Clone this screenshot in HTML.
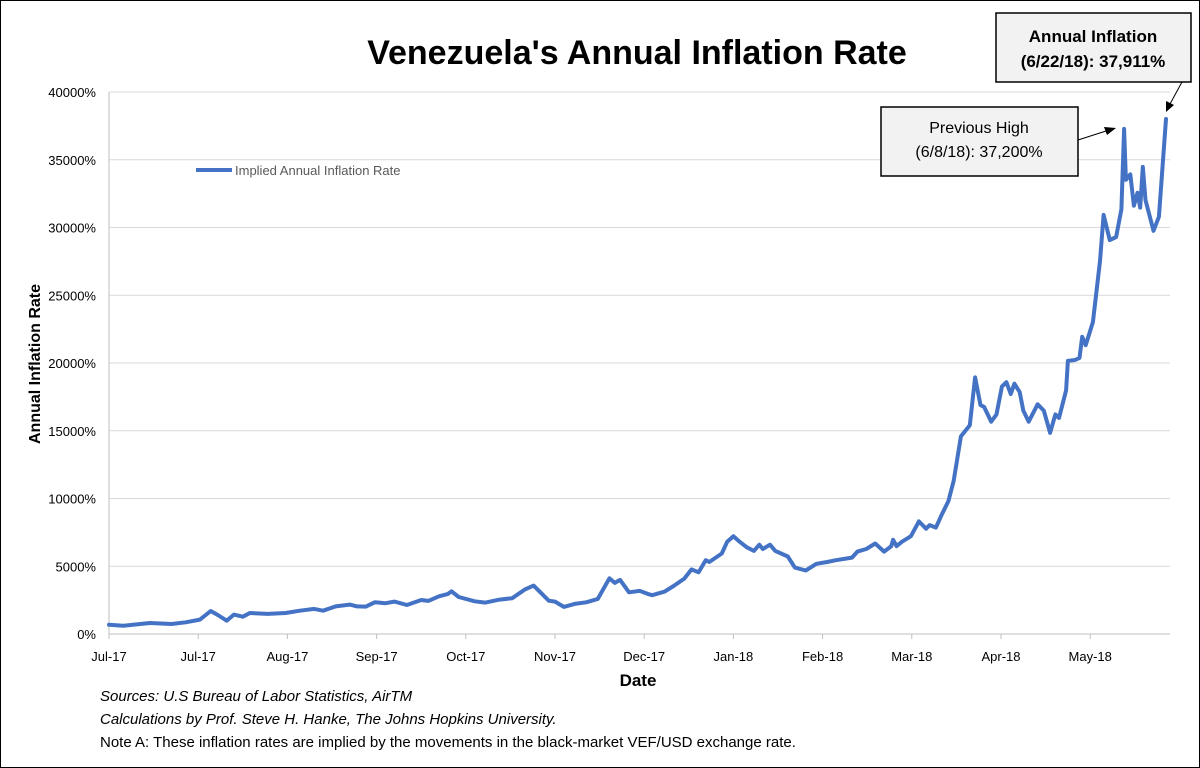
<!DOCTYPE html>
<html><head><meta charset="utf-8"><style>
body{margin:0;background:#fff}
svg{display:block;font-family:"Liberation Sans",Arial,sans-serif}
</style></head><body>
<svg id="chart" width="1200" height="768" viewBox="0 0 1200 768">
<rect x="0.5" y="0.5" width="1199" height="767" fill="#fff" stroke="#000"/>
<text x="637" y="64" text-anchor="middle" font-size="34" font-weight="bold">Venezuela's Annual Inflation Rate</text>
<g id="grid"></g>
<g id="yticks"></g>
<g id="xticks"></g>
<text transform="translate(40,364) rotate(-90)" text-anchor="middle" font-size="16" font-weight="bold">Annual Inflation Rate</text>
<text x="638" y="686" text-anchor="middle" font-size="17" font-weight="bold">Date</text>
<g id="series"></g>
<g>
<line x1="196" y1="170" x2="232" y2="170" stroke="#4472C4" stroke-width="4"/>
<text x="235" y="175" font-size="13" fill="#595959">Implied Annual Inflation Rate</text></g>
<g>
<rect x="881" y="107" width="197" height="69" fill="#f2f2f2" stroke="#000" stroke-width="1.5"/>
<text x="979" y="133" text-anchor="middle" font-size="16">Previous High</text>
<text x="979" y="157" text-anchor="middle" font-size="16">(6/8/18): 37,200%</text>
<line x1="1078" y1="140" x2="1106" y2="131" stroke="#000"/>
<polygon points="1116,128 1104,127 1107,135" fill="#000"/></g>
<g>
<rect x="996" y="13" width="195" height="69" fill="#f2f2f2" stroke="#000" stroke-width="1.5"/>
<text x="1093" y="42" text-anchor="middle" font-size="17" font-weight="bold">Annual Inflation</text>
<text x="1093" y="67" text-anchor="middle" font-size="17" font-weight="bold">(6/22/18): 37,911%</text>
<line x1="1182" y1="82" x2="1170" y2="104" stroke="#000"/>
<polygon points="1166,112 1166,101 1174,105" fill="#000"/></g>
<g font-size="15">
<text x="100" y="701" font-style="italic">Sources: U.S Bureau of Labor Statistics, AirTM</text>
<text x="100" y="724" font-style="italic">Calculations by Prof. Steve H. Hanke, The Johns Hopkins University.</text>
<text x="100" y="747">Note A: These inflation rates are implied by the movements in the black-market VEF/USD exchange rate.</text>
</g>
</svg>
<script>
const xLabels=["Jul-17","Jul-17","Aug-17","Sep-17","Oct-17","Nov-17","Dec-17","Jan-18","Feb-18","Mar-18","Apr-18","May-18"];
const yTicks=[0,5000,10000,15000,20000,25000,30000,35000,40000];
const tIdx=[0,0.16,0.46,0.7,0.86,1.02,1.14,1.22,1.32,1.4,1.5,1.58,1.78,1.98,2.14,2.3,2.4,2.54,2.7,2.78,2.88,2.98,3.1,3.2,3.34,3.5,3.58,3.7,3.8,3.84,3.92,4.1,4.22,4.38,4.52,4.66,4.76,4.93,5.0,5.1,5.22,5.35,5.48,5.61,5.67,5.73,5.83,5.95,6.04,6.09,6.23,6.33,6.45,6.53,6.61,6.69,6.73,6.87,6.93,7.0,7.07,7.15,7.23,7.29,7.33,7.41,7.47,7.61,7.69,7.81,7.93,8.05,8.15,8.33,8.39,8.49,8.59,8.69,8.77,8.79,8.83,8.89,8.99,9.08,9.16,9.2,9.27,9.33,9.41,9.47,9.55,9.65,9.71,9.77,9.81,9.89,9.95,10.01,10.06,10.11,10.15,10.21,10.25,10.31,10.41,10.48,10.55,10.61,10.65,10.73,10.75,10.83,10.88,10.91,10.95,11.03,11.11,11.15,11.22,11.29,11.35,11.38,11.4,11.45,11.49,11.53,11.56,11.59,11.62,11.71,11.77,11.85];
const rates=[690,615,810,740,860,1060,1700,1400,985,1430,1280,1550,1480,1550,1720,1850,1720,2040,2170,2040,2020,2340,2270,2390,2140,2510,2440,2780,2960,3150,2730,2410,2320,2540,2640,3280,3570,2460,2390,2000,2220,2340,2590,4110,3770,3990,3080,3180,2960,2860,3130,3540,4090,4770,4550,5450,5310,5940,6810,7220,6810,6400,6130,6590,6270,6590,6130,5720,4900,4690,5180,5310,5450,5640,6080,6270,6680,6080,6490,6950,6490,6810,7220,8310,7770,8040,7850,8720,9810,11310,14580,15400,18940,16890,16760,15670,16210,18260,18580,17710,18470,17850,16490,15670,16950,16490,14850,16210,15940,17980,20160,20220,20380,21930,21310,23020,27520,30930,29070,29290,31340,37280,33520,33920,31610,32560,31470,34470,32020,29760,30790,38010];
const NS="http://www.w3.org/2000/svg";
const X0=109,XS=89.2,Y0=634,YT=92,XR=1170;
const xs=i=>X0+XS*i;
const ys=v=>Y0-(Y0-YT)*v/40000;
function mk(t,a,p){const e=document.createElementNS(NS,t);for(const k in a)e.setAttribute(k,a[k]);p.appendChild(e);return e;}
const grid=document.getElementById('grid'),yt=document.getElementById('yticks'),xt=document.getElementById('xticks'),ser=document.getElementById('series');
yTicks.forEach(v=>{
 const l=mk('line',{x1:X0,x2:XR,y1:ys(v),y2:ys(v),stroke:v===0?'#bfbfbf':'#d9d9d9','stroke-width':1},grid);
 
 
 const t=mk('text',{x:96,y:ys(v)+5,'text-anchor':'end','font-size':13,fill:'#000'},yt);
 t.textContent=v+'%';
 
 
});
mk('line',{x1:X0,x2:X0,y1:YT,y2:Y0,stroke:'#bfbfbf'},grid);
xLabels.forEach((s,i)=>{
 mk('line',{x1:xs(i),x2:xs(i),y1:Y0,y2:Y0+5,stroke:'#bfbfbf'},xt);
 const t=mk('text',{x:xs(i),y:661,'text-anchor':'middle','font-size':13},xt);
 t.textContent=s;
 
 
});
const d=tIdx.map((t,i)=>(i?'L':'M')+xs(t).toFixed(1)+','+ys(rates[i]).toFixed(1)).join('');
const p=mk('path',{d:d,fill:'none',stroke:'#4472C4','stroke-width':4,'stroke-linejoin':'round','stroke-linecap':'round'},ser);


</script>
</body></html>
